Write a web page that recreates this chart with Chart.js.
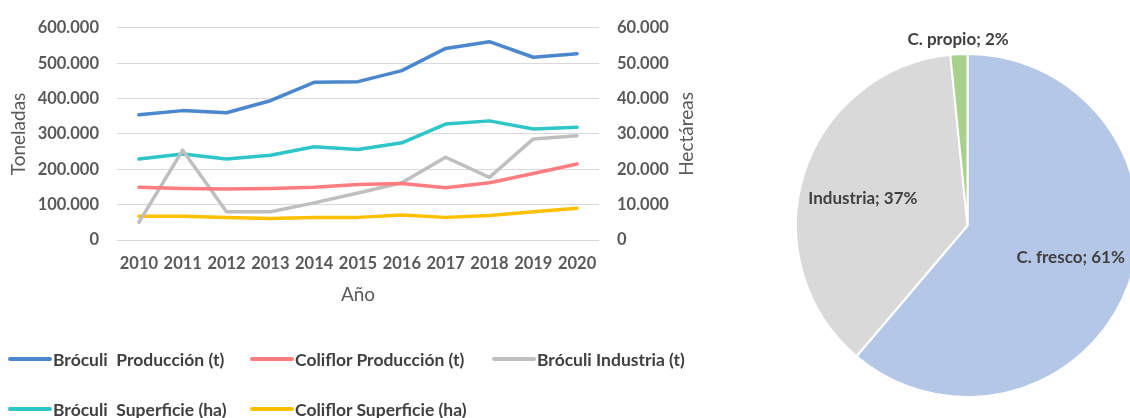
<!DOCTYPE html>
<html>
<head>
<meta charset="utf-8">
<script src="https://cdn.jsdelivr.net/npm/chart.js@4.4.1/dist/chart.umd.min.js"></script>
<style>
  html, body { margin: 0; padding: 0; background: #fff; overflow: hidden; }
  body { width: 1130px; height: 418px; position: relative; font-family: Lato, "Open Sans", sans-serif; }
  #lineWrap { position: absolute; left: 0; top: 0; width: 720px; height: 310px; }
  #pieWrap { position: absolute; left: 795px; top: 0; width: 345px; height: 418px; }
  #legend { position: absolute; left: 0; top: 0; width: 720px; height: 418px; pointer-events: none; }
  .lg-item { position: absolute; display: flex; align-items: center; height: 24px; white-space: pre;
             font: bold 17.5px Lato, sans-serif; color: #404040; }
  .lg-line { display: inline-block; width: 44px; height: 4px; border-radius: 2px; margin-right: 1px; }
</style>
</head>
<body>
<div id="lineWrap"><canvas id="lineChart" width="720" height="310"></canvas></div>
<div id="pieWrap"><canvas id="pieChart" width="345" height="418"></canvas></div>
<div id="legend"></div>
<script>
// ---- Data ----
const years = ['2010','2011','2012','2013','2014','2015','2016','2017','2018','2019','2020'];
const brocoliProduccion = [354000, 366000, 360000, 394000, 446000, 448000, 479000, 542000, 561000, 517000, 527000];
const coliflorProduccion = [149000, 146000, 144000, 146000, 149000, 157000, 160000, 148000, 162000, 188000, 215000];
const brocoliIndustria = [50000, 254000, 80000, 80000, 105000, 133000, 162000, 234000, 177000, 286000, 295000];
const brocoliSuperficie = [22900, 24300, 22900, 24000, 26400, 25600, 27500, 32800, 33700, 31400, 31900];
const coliflorSuperficie = [6700, 6700, 6400, 6100, 6400, 6400, 7100, 6400, 6900, 8000, 9000];

const seriesNames = ['Bróculi  Producción (t)', 'Coliflor Producción (t)', 'Bróculi Industria (t)',
                     'Bróculi  Superficie (ha)', 'Coliflor Superficie (ha)'];

const leftAxisTitle = 'Toneladas';
const rightAxisTitle = 'Hectáreas';
const xAxisTitle = 'Año';

const pieLabels = ['C. fresco', 'Industria', 'C. propio'];
const pieValues = [61.2, 37.2, 1.6];

// ---- Helpers ----
const fmt = v => String(Math.round(v)).replace(/\B(?=(\d{3})+(?!\d))/g, '.');
const tickColor = '#595959';
const gridColor = '#D9D9D9';

const colors = ['#4A87CD', '#FF7C80', '#BFBFBF', '#2EC6C6', '#FFC000'];
const seriesData = [brocoliProduccion, coliflorProduccion, brocoliIndustria, brocoliSuperficie, coliflorSuperficie];
const seriesAxis = ['y', 'y', 'y', 'y1', 'y1'];

const datasets = seriesNames.map((n, i) => ({
  label: n,
  data: seriesData[i],
  yAxisID: seriesAxis[i],
  borderColor: colors[i],
  backgroundColor: colors[i],
  borderWidth: 3.5,
  pointRadius: 0,
  tension: 0,
  fill: false,
  borderCapStyle: 'round',
  borderJoinStyle: 'round'
}));

const rightTitlePlugin = {
  id: 'rightTitle',
  afterDraw(chart) {
    const { ctx, chartArea } = chart;
    ctx.save();
    ctx.font = '19px Lato, sans-serif';
    ctx.fillStyle = tickColor;
    ctx.textAlign = 'center';
    ctx.textBaseline = 'middle';
    ctx.translate(686.5, (chartArea.top + chartArea.bottom) / 2);
    ctx.rotate(-Math.PI / 2);
    ctx.fillText(rightAxisTitle, 0, 0);
    ctx.restore();
  }
};

const tickFont = { family: 'Lato', size: 16.5, weight: 'bold' };

const lineChart = new Chart(document.getElementById('lineChart'), {
  type: 'line',
  data: { labels: years, datasets: datasets },
  options: {
    responsive: false,
    devicePixelRatio: 1,
    animation: false,
    layout: { padding: { top: 22, left: 0, right: 0, bottom: 0 } },
    plugins: { legend: { display: false }, tooltip: { enabled: false } },
    scales: {
      x: {
        offset: true,
        grid: { display: false, drawTicks: false, tickLength: 0 },
        border: { display: false },
        ticks: { color: tickColor, font: tickFont, padding: 14, maxRotation: 0, autoSkip: false },
        title: { display: true, text: xAxisTitle, color: tickColor, font: { family: 'Lato', size: 19 }, padding: { top: 0, bottom: 4 } },
        afterFit(s) { s.height = 70; }
      },
      y: {
        position: 'left',
        min: 0, max: 600000,
        grid: { color: gridColor, lineWidth: 1, drawTicks: false, tickLength: 0 },
        border: { display: false },
        ticks: { stepSize: 100000, color: tickColor, font: tickFont, padding: 18, callback: v => fmt(v) },
        title: { display: true, text: leftAxisTitle, color: tickColor, font: { family: 'Lato', size: 19 }, padding: { top: 7, bottom: 0 } },
        afterFit(s) { s.width = 117; }
      },
      y1: {
        position: 'right',
        min: 0, max: 60000,
        grid: { drawOnChartArea: false, drawTicks: false, tickLength: 0 },
        border: { display: false },
        ticks: { stepSize: 10000, color: tickColor, font: tickFont, padding: 18, callback: v => fmt(v) },
        afterFit(s) { s.width = 121; }
      }
    }
  },
  plugins: [rightTitlePlugin]
});

// ---- HTML legend built from the chart's datasets ----
const legendEl = document.getElementById('legend');
const colX = [8, 250, 492];
const rowY = [359, 409];
lineChart.data.datasets.forEach((ds, i) => {
  const row = i < 3 ? 0 : 1;
  const col = i < 3 ? i : i - 3;
  const item = document.createElement('div');
  item.className = 'lg-item';
  item.style.left = colX[col] + 'px';
  item.style.top = (rowY[row] - 12) + 'px';
  const line = document.createElement('span');
  line.className = 'lg-line';
  line.style.background = ds.borderColor;
  const txt = document.createElement('span');
  txt.textContent = ds.label;
  item.appendChild(line);
  item.appendChild(txt);
  legendEl.appendChild(item);
});

// ---- Pie ----
const pieLabelPlugin = {
  id: 'pieLabels',
  afterDraw(chart) {
    const { ctx } = chart;
    const meta = chart.getDatasetMeta(0);
    const total = pieValues.reduce((a, b) => a + b, 0);
    ctx.save();
    ctx.font = 'bold 17px Lato, sans-serif';
    ctx.fillStyle = '#404040';
    ctx.textAlign = 'center';
    ctx.textBaseline = 'middle';
    meta.data.forEach((arc, i) => {
      const p = arc.getProps(['x', 'y', 'startAngle', 'endAngle', 'outerRadius'], true);
      const share = pieValues[i] / total;
      // Excel "best fit" places the larger labels slightly below the slice bisector
      const mid = (p.startAngle + p.endAngle) / 2 - (share < 0.05 ? 0 : 0.05);
      const r = share < 0.05 ? p.outerRadius + 15 : p.outerRadius * 0.63;
      const x = p.x + Math.cos(mid) * r;
      const y = p.y + Math.sin(mid) * r;
      ctx.fillText(pieLabels[i] + '; ' + Math.round(share * 100) + '%', x, y);
    });
    ctx.restore();
  }
};

new Chart(document.getElementById('pieChart'), {
  type: 'pie',
  data: {
    labels: pieLabels,
    datasets: [{
      data: pieValues,
      backgroundColor: ['#B4C7E7', '#D9D9D9', '#A9D18E'],
      borderColor: '#FFFFFF',
      borderWidth: 2
    }]
  },
  options: {
    responsive: false,
    devicePixelRatio: 1,
    animation: false,
    layout: { padding: { top: 53, bottom: 20, left: 0, right: 0 } },
    plugins: { legend: { display: false }, tooltip: { enabled: false } }
  },
  plugins: [pieLabelPlugin]
});
</script>
</body>
</html>
